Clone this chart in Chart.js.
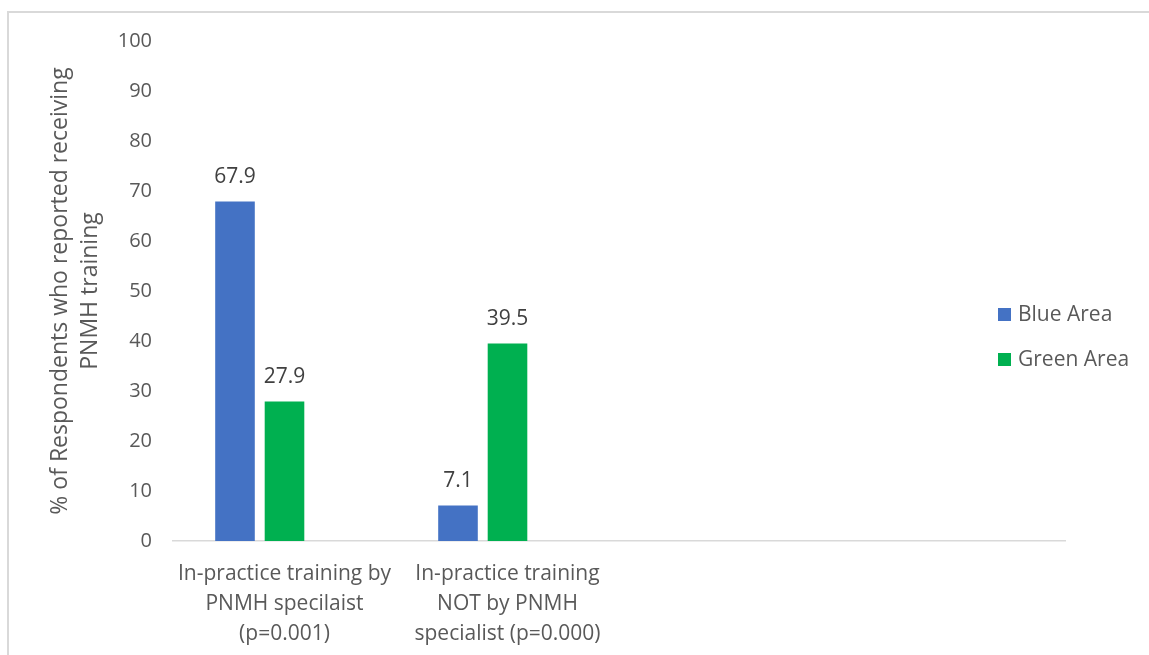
<!DOCTYPE html>
<html>
<head>
<meta charset="utf-8">
<title>PNMH training by area</title>
<script src="https://cdn.jsdelivr.net/npm/chart.js@4.4.1/dist/chart.umd.min.js"></script>
<style>
  html, body { margin: 0; padding: 0; background: #fff; overflow: hidden; }
  .wrap { position: relative; width: 1149px; height: 655px; }
  .frame { position: absolute; left: 7px; top: 11px; width: 1200px; height: 700px; border: 2px solid #d9d9d9; box-sizing: border-box; }
  canvas { position: absolute; left: 0; top: 0; }
</style>
</head>
<body>
<div class="wrap">
  <div class="frame"></div>
  <canvas id="chart" width="1149" height="655"></canvas>
</div>
<script>
// categories (last two slots are empty in the workbook)
const categories = [
  ['In-practice training by', 'PNMH specilaist', '(p=0.001)'],
  ['In-practice training', 'NOT by PNMH', 'specialist (p=0.000)'],
  '',
  ''
];
const blueArea = [67.9, 7.1, null, null];
const greenArea = [27.9, 39.5, null, null];
const emptySeries = [null, null, null, null];
const yTicks = [0, 10, 20, 30, 40, 50, 60, 70, 80, 90, 100];

const FONT = '"Open Sans", "DejaVu Sans", sans-serif';
const GREY = '#595959';

// value labels above each bar
const barValues = {
  id: 'barValues',
  afterDatasetsDraw(chart) {
    const ctx = chart.ctx;
    ctx.save();
    ctx.font = '21px ' + FONT;
    ctx.fillStyle = '#404040';
    ctx.textAlign = 'center';
    ctx.textBaseline = 'middle';
    chart.data.datasets.forEach((ds, i) => {
      chart.getDatasetMeta(i).data.forEach((bar, j) => {
        const v = ds.data[j];
        if (v == null) return;
        ctx.fillText(v.toFixed(1), bar.x, bar.y - 24);
      });
    });
    ctx.restore();
  }
};

// legend at the right, only the named series
const sideLegend = {
  id: 'sideLegend',
  afterDraw(chart) {
    const ctx = chart.ctx;
    ctx.save();
    ctx.font = '21px ' + FONT;
    ctx.textBaseline = 'middle';
    ctx.textAlign = 'left';
    let y = 315;
    chart.data.datasets.filter(ds => ds.label).forEach(ds => {
      ctx.fillStyle = ds.backgroundColor;
      ctx.fillRect(998, y - 7, 13, 13);
      ctx.fillStyle = GREY;
      ctx.fillText(ds.label, 1018, y);
      y += 45;
    });
    ctx.restore();
  }
};

new Chart(document.getElementById('chart'), {
  type: 'bar',
  data: {
    labels: categories,
    datasets: [
      { label: 'Blue Area', data: blueArea, backgroundColor: '#4472C4' },
      { label: 'Green Area', data: greenArea, backgroundColor: '#00B050' },
      { label: '', data: emptySeries, backgroundColor: '#A5A5A5' }
    ]
  },
  options: {
    responsive: false,
    devicePixelRatio: 1,
    animation: false,
    categoryPercentage: 0.666,
    barPercentage: 0.8,
    layout: { padding: { top: 41, right: 84, left: 0, bottom: 0 } },
    plugins: {
      legend: { display: false },
      tooltip: { enabled: false }
    },
    scales: {
      x: {
        grid: { display: false },
        border: { display: true, color: '#d9d9d9', width: 1.5 },
        ticks: {
          color: GREY,
          font: { family: FONT, size: 21, lineHeight: 1.43 },
          padding: 10,
          maxRotation: 0,
          autoSkip: false
        },
        afterFit(scale) { scale.height = 114; }
      },
      y: {
        min: 0,
        max: 100,
        afterBuildTicks(scale) { scale.ticks = yTicks.map(v => ({ value: v })); },
        grid: { display: false, drawTicks: false },
        border: { display: false },
        ticks: {
          color: GREY,
          font: { family: FONT, size: 20 },
          padding: 21
        },
        title: {
          display: true,
          text: ['% of Respondents who reported receiving', 'PNMH training'],
          color: GREY,
          font: { family: FONT, size: 23, lineHeight: 1.3 },
          padding: { top: 46, bottom: 0 }
        },
        afterFit(scale) { scale.width = 173; }
      }
    }
  },
  plugins: [barValues, sideLegend]
});
</script>
</body>
</html>
